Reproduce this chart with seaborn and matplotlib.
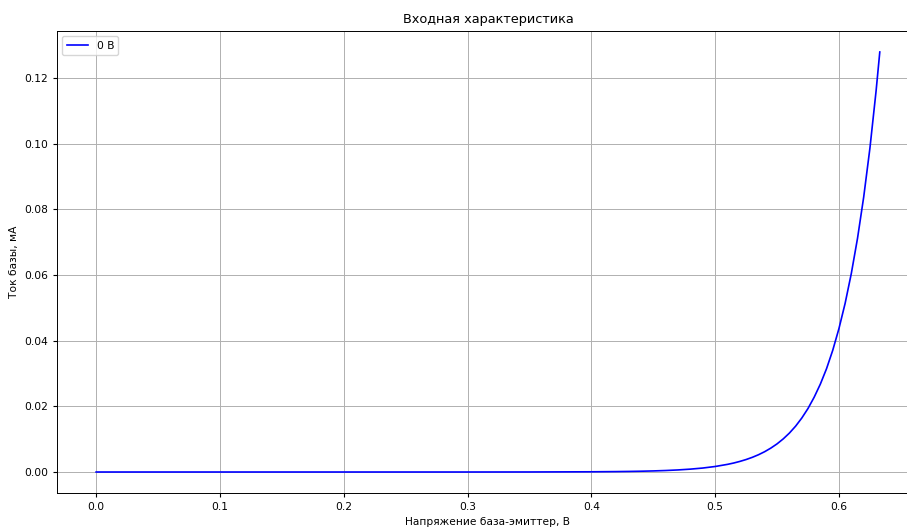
import matplotlib
matplotlib.use("Agg")
import matplotlib.pyplot as plt
import pandas as pd
import seaborn as sns

# base-emitter voltage, V
voltage = [0.0, 0.1, 0.2, 0.3, 0.35, 0.40, 0.42, 0.43, 0.44, 0.45, 0.46, 0.47,
           0.48, 0.49, 0.50, 0.51, 0.515, 0.52, 0.525, 0.53, 0.535, 0.54, 0.545,
           0.55, 0.555, 0.56, 0.565, 0.57, 0.575, 0.58, 0.585, 0.59, 0.595,
           0.60, 0.605, 0.61, 0.615, 0.62, 0.625, 0.63, 0.633]
# base current, mA
current = [0.0, 0.0, 0.0, 0.0, 0.00001, 0.000065, 0.000124, 0.000172, 0.000238,
           0.000329, 0.000456, 0.000632, 0.000876, 0.00121, 0.00168, 0.00233,
           0.00274, 0.00323, 0.0038, 0.00447, 0.00526, 0.00619, 0.00729,
           0.00857, 0.01009, 0.01187, 0.01397, 0.01645, 0.01935, 0.0228,
           0.0268, 0.0315, 0.0371, 0.0437, 0.0514, 0.0605, 0.0712, 0.0838,
           0.0986, 0.1161, 0.128]

df = pd.DataFrame({"u_be": voltage, "i_b": current})

plt.rcParams.update({
    "font.size": 7.7,
    "axes.titlesize": 9.3,
    "axes.labelsize": 7.7,
    "xtick.labelsize": 7.7,
    "ytick.labelsize": 7.7,
    "legend.fontsize": 7.7,
    "xtick.major.size": 2.7,
    "ytick.major.size": 2.7,
    "axes.linewidth": 0.7,
    "grid.linewidth": 0.7,
})

fig = plt.figure(figsize=(9.07, 5.27), dpi=100)
ax = fig.add_axes([0.0628, 0.0645, 0.9504, 0.8767])

sns.lineplot(data=df, x="u_be", y="i_b", color="blue", label="0 В",
             linewidth=1.2, ax=ax)

ax.set_title("Входная характеристика")
ax.set_xlabel("Напряжение база-эмиттер, В")
ax.set_ylabel("Ток базы, мА")
ax.grid(True)
ax.legend(loc="upper left")

fig.savefig("out.png", dpi=100)
